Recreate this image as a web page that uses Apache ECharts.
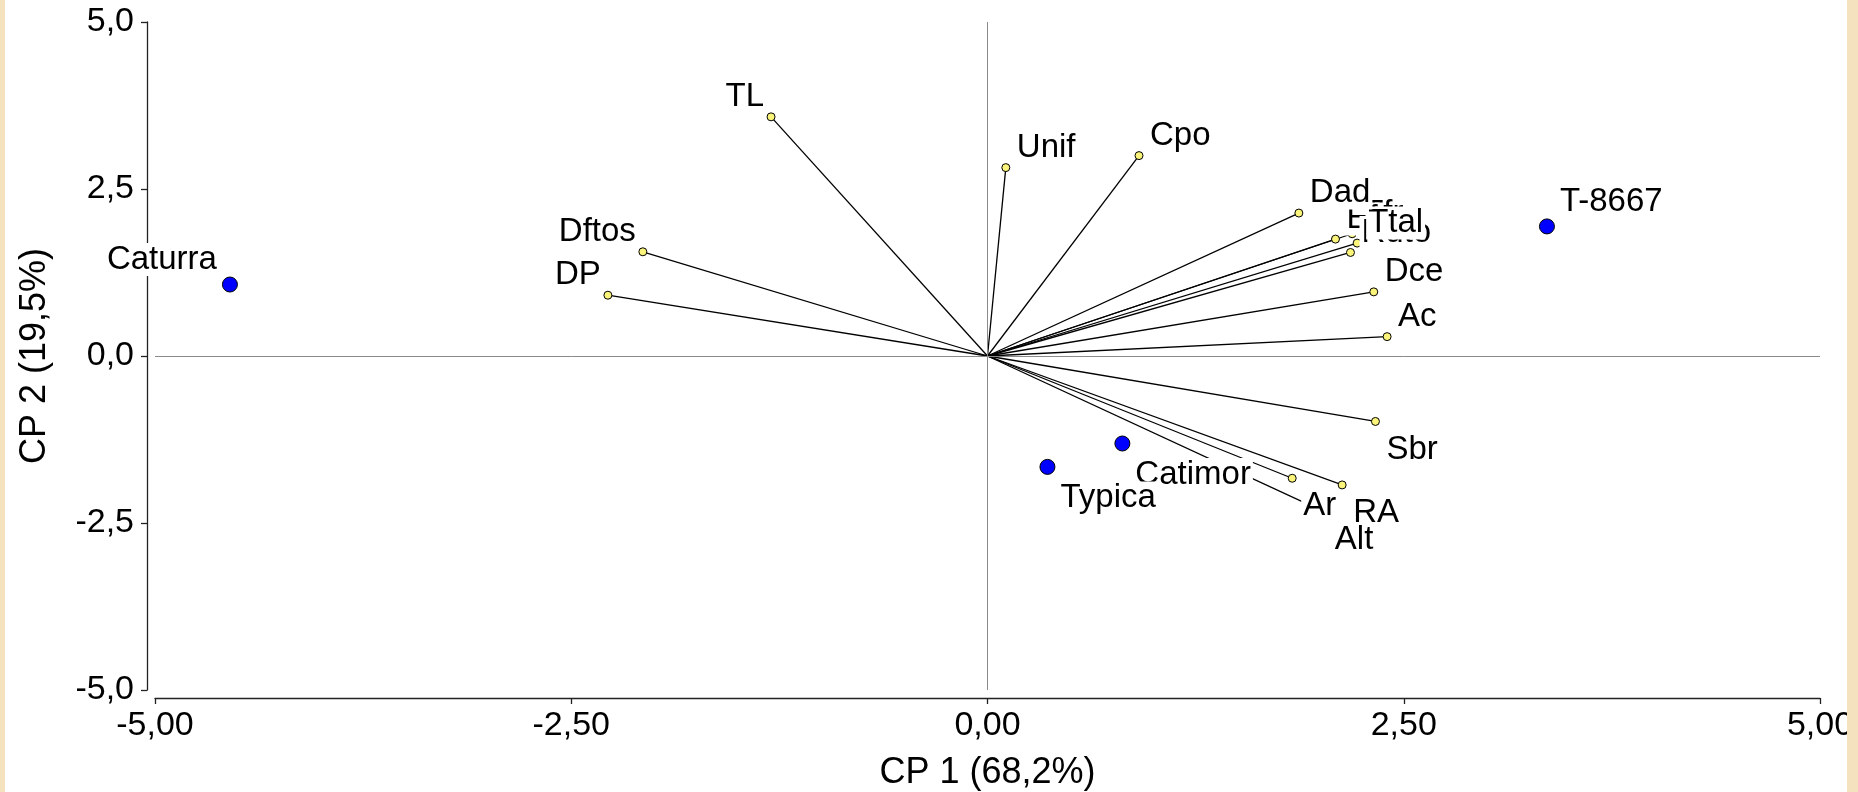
<!DOCTYPE html>
<html>
<head>
<meta charset="utf-8">
<script src="https://cdn.jsdelivr.net/npm/echarts@6/dist/echarts.min.js"></script>
<style>
html,body{margin:0;padding:0;background:#fff;}
#chart{width:1858px;height:792px;}
</style>
</head>
<body>
<div id="chart"></div>
<script>
// Cultivars (PCA scores)
var cultivarNames = ['Caturra', 'T-8667', 'Catimor', 'Typica'];
var cultivarX = [-4.55, 3.36, 0.81, 0.36];
var cultivarY = [1.07, 1.94, -1.31, -1.66];

// Variables (PCA loadings, drawn as vectors from origin)
var varNames = ['TL', 'Dftos', 'DP', 'Unif', 'Cpo', 'Tfr', 'Ef', 'Rdto', 'Ttal', 'Dad', 'Dce', 'Ac', 'Sbr', 'Ar', 'RA', 'Alt'];
var varX = [-1.30, -2.07, -2.28, 0.11, 0.91, 2.19, 2.09, 2.18, 2.22, 1.87, 2.32, 2.40, 2.33, 1.83, 2.13, 2.02];
var varY = [3.58, 1.56, 0.91, 2.82, 3.00, 1.83, 1.75, 1.55, 1.69, 2.14, 0.96, 0.29, -0.98, -1.83, -1.93, -2.33];

// Tick values
var xTicks = [-5, -2.5, 0, 2.5, 5];
var yTicks = [-5, -2.5, 0, 2.5, 5];

// Axis titles
var xTitle = 'CP 1 (68,2%)';
var yTitle = 'CP 2 (19,5%)';

// Label placement (layout only): ul = upper-left, ur = upper-right, lr = lower-right
var cultivarLabelSide = ['ul', 'ur', 'lr', 'lr'];
var varLabelSide = ['ul', 'ul', 'ul', 'ur', 'ur', 'ur', 'ur', 'ur', 'ur', 'ur', 'ur', 'ur', 'lr', 'lr', 'lr', 'lr'];

var FONT = '"Liberation Sans", Arial, sans-serif';

function labelFor(side, dxL, dxR, dyU, dyL) {
  return {
    show: true,
    formatter: '{b}',
    position: 'inside',
    align: side === 'ul' ? 'right' : 'left',
    verticalAlign: 'middle',
    offset: [side === 'ul' ? -dxL : dxR, side.charAt(0) === 'u' ? -dyU : dyL],
    color: '#000',
    fontFamily: FONT,
    fontSize: 33,
    backgroundColor: '#fff',
    padding: [0, 2, 0, 2]
  };
}

var vectorData = varNames.map(function (n, i) {
  return { name: n, coords: [[0, 0], [varX[i], varY[i]]] };
});
var varPoints = varNames.map(function (n, i) {
  return { name: n, value: [varX[i], varY[i]], label: labelFor(varLabelSide[i], 5, 9, 20, 28) };
});
var cultPoints = cultivarNames.map(function (n, i) {
  return { name: n, value: [cultivarX[i], cultivarY[i]], label: labelFor(cultivarLabelSide[i], 11, 11, 25, 31) };
});

function fmt(d) {
  return function (v) { return v.toFixed(d).replace('.', ','); };
}

var chart = echarts.init(document.getElementById('chart'), null, { renderer: 'canvas' });
chart.setOption({
  backgroundColor: '#fff',
  animation: false,
  graphic: [
    { type: 'rect', shape: { x: 0, y: 0, width: 5, height: 792 }, style: { fill: '#f3e2bd' }, z: 100 },
    { type: 'rect', shape: { x: 1847, y: 0, width: 11, height: 792 }, style: { fill: '#f3e2bd' }, z: 100 }
  ],
  grid: { left: 155, right: 38, top: 22, bottom: 102, containLabel: false, outerBoundsMode: 'none' },
  xAxis: {
    type: 'value', min: xTicks[0], max: xTicks[xTicks.length - 1], interval: 2.5,
    offset: 8,
    name: xTitle, nameLocation: 'middle', nameGap: 57,
    nameTextStyle: { fontFamily: FONT, fontSize: 36, color: '#000' },
    axisLine: { show: true, onZero: false, lineStyle: { color: '#222', width: 1.3 } },
    axisTick: { show: true, inside: false, length: 6, lineStyle: { color: '#222', width: 1.3 } },
    axisLabel: { formatter: fmt(2), fontFamily: FONT, fontSize: 34, color: '#000', margin: 11 },
    splitLine: { show: false }
  },
  yAxis: {
    type: 'value', min: yTicks[0], max: yTicks[yTicks.length - 1], interval: 2.5,
    offset: 8,
    name: yTitle, nameLocation: 'middle', nameGap: 94,
    nameTextStyle: { fontFamily: FONT, fontSize: 36, color: '#000' },
    axisLine: { show: true, onZero: false, lineStyle: { color: '#222', width: 1.3 } },
    axisTick: { show: true, inside: false, length: 6, lineStyle: { color: '#222', width: 1.3 } },
    axisLabel: { formatter: fmt(1), fontFamily: FONT, fontSize: 34, color: '#000', margin: 13, padding: [5, 0, 0, 0] },
    splitLine: { show: false }
  },
  series: [
    {
      type: 'scatter', data: [], z: 0, silent: true,
      markLine: {
        silent: true, symbol: 'none', animation: false,
        label: { show: false },
        lineStyle: { color: '#8a8a8a', width: 1, type: 'solid' },
        emphasis: { disabled: true },
        data: [{ xAxis: 0 }, { yAxis: 0 }]
      }
    },
    {
      type: 'lines', coordinateSystem: 'cartesian2d', z: 1, silent: true,
      lineStyle: { color: '#000', width: 1.3, opacity: 1 },
      data: vectorData
    },
    {
      type: 'scatter', z: 2, silent: true,
      symbol: 'circle', symbolSize: 8,
      itemStyle: { color: '#fbf47a', borderColor: '#000', borderWidth: 1, opacity: 1 },
      data: varPoints
    },
    {
      type: 'scatter', z: 3, silent: true,
      symbol: 'circle', symbolSize: 15,
      itemStyle: { color: '#0000ff', borderColor: '#000', borderWidth: 1, opacity: 1 },
      data: cultPoints
    }
  ]
});
</script>
</body>
</html>
